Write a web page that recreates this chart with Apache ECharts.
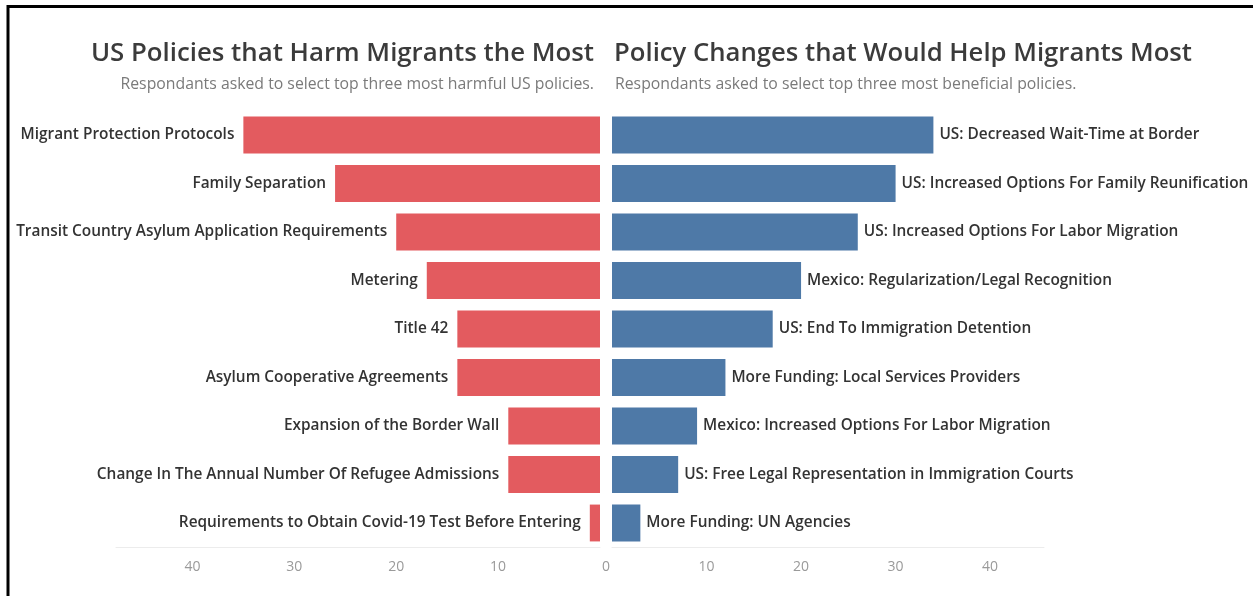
<!DOCTYPE html>
<html>
<head>
<meta charset="utf-8">
<script src="https://cdn.jsdelivr.net/npm/echarts@6/dist/echarts.min.js"></script>
<style>
  html, body { margin: 0; padding: 0; background: #fff; }
  #chart { width: 1253px; height: 596px; }
</style>
</head>
<body>
<div id="chart"></div>
<script>
// Survey responses: policies that harm migrants (left) vs. changes that would help (right)
const harmCategories = [
  'Migrant Protection Protocols',
  'Family Separation',
  'Transit Country Asylum Application Requirements',
  'Metering',
  'Title 42',
  'Asylum Cooperative Agreements',
  'Expansion of the Border Wall',
  'Change In The Annual Number Of Refugee Admissions',
  'Requirements to Obtain Covid-19 Test Before Entering'
];
const harmValues = [35, 26, 20, 17, 14, 14, 9, 9, 1];

const helpCategories = [
  'US: Decreased Wait-Time at Border',
  'US: Increased Options For Family Reunification',
  'US: Increased Options For Labor Migration',
  'Mexico: Regularization/Legal Recognition',
  'US: End To Immigration Detention',
  'More Funding: Local Services Providers',
  'Mexico: Increased Options For Labor Migration',
  'US: Free Legal Representation in Immigration Courts',
  'More Funding: UN Agencies'
];
const helpValues = [34, 30, 26, 20, 17, 12, 9, 7, 3];

const tickLabels = [0, 10, 20, 30, 40];

const harmTitle = 'US Policies that Harm Migrants the Most';
const harmSubtitle = 'Respondants asked to select top three most harmful US policies.';
const helpTitle = 'Policy Changes that Would Help Migrants Most';
const helpSubtitle = 'Respondants asked to select top three most beneficial policies.';

const FONT = '"Open Sans", "Noto Sans", sans-serif';
const RED = '#e35b5f';
const BLUE = '#4e79a7';

const chart = echarts.init(document.getElementById('chart'), null, { renderer: 'canvas' });

const gridTop = 110.75;
const gridBottom = 48.75;

function valueAxis(gridIndex, max, inverse, formatter) {
  return {
    type: 'value',
    gridIndex: gridIndex,
    min: 0,
    max: max,
    interval: 10,
    inverse: inverse,
    splitLine: { show: false },
    axisTick: { show: false },
    axisLine: { show: true, lineStyle: { color: '#ececec', width: 1 } },
    axisLabel: {
      color: '#9a9a9a',
      fontFamily: FONT,
      fontSize: 14,
      margin: 13,
      formatter: formatter,
      rich: { z: { padding: [0, 12, 0, 0], color: '#9a9a9a', fontFamily: FONT, fontSize: 14 } }
    }
  };
}

const titleText = (fs, color, weight) => ({
  fontFamily: FONT, fontSize: fs, color: color, fontWeight: weight
});

const labelStyle = {
  color: '#333333',
  fontFamily: FONT,
  fontSize: 15.4,
  fontWeight: 600,
  formatter: '{b}'
};

chart.setOption({
  animation: false,
  backgroundColor: '#ffffff',
  title: [
    { text: harmTitle, right: 659, top: 41, padding: 0, textStyle: titleText(25.8, '#3b3b3b', 600) },
    { text: harmSubtitle, right: 659, top: 76, padding: 0, textStyle: titleText(15.8, '#7a7a7a', 'normal') },
    { text: helpTitle, left: 614, top: 41, padding: 0, textStyle: titleText(25.7, '#3b3b3b', 600) },
    { text: helpSubtitle, left: 615, top: 76, padding: 0, textStyle: titleText(15.8, '#7a7a7a', 'normal') }
  ],
  grid: [
    { left: 116, right: 653, top: gridTop, bottom: gridBottom },
    { left: 612, right: 209, top: gridTop, bottom: gridBottom }
  ],
  xAxis: [
    valueAxis(0, 47.5, true, v => (v !== 0 && tickLabels.includes(v)) ? String(v) : ''),
    valueAxis(1, 45.7, false, v => v === 0 ? '{z|0}' : (tickLabels.includes(v) ? String(v) : ''))
  ],
  yAxis: [
    { type: 'category', gridIndex: 0, data: harmCategories, inverse: true, show: false },
    { type: 'category', gridIndex: 1, data: helpCategories, inverse: true, show: false }
  ],
  series: [
    {
      type: 'bar',
      xAxisIndex: 0,
      yAxisIndex: 0,
      data: harmValues,
      barCategoryGap: '24%',
      itemStyle: { color: RED },
      label: Object.assign({ show: true, position: 'left', distance: 9 }, labelStyle)
    },
    {
      type: 'bar',
      xAxisIndex: 1,
      yAxisIndex: 1,
      data: helpValues,
      barCategoryGap: '24%',
      itemStyle: { color: BLUE },
      label: Object.assign({ show: true, position: 'right', distance: 6 }, labelStyle)
    }
  ],
  graphic: [
    // frame along the top and left edges
    { type: 'line', shape: { x1: 7, y1: 6.5, x2: 1253, y2: 6.5 }, style: { stroke: '#000', lineWidth: 3 } },
    { type: 'line', shape: { x1: 8, y1: 5, x2: 8, y2: 596 }, style: { stroke: '#000', lineWidth: 3 } }
  ]
});
</script>
</body>
</html>
